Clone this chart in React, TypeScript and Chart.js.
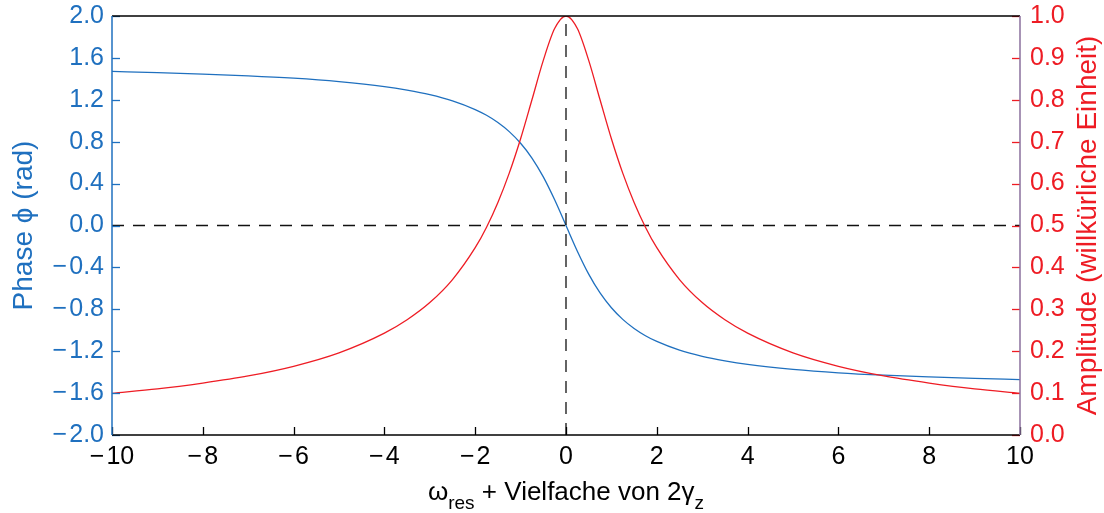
import React, { useEffect, useRef } from 'react';
import { Chart, registerables } from 'chart.js';
Chart.register(...registerables);

const xValues = [-10, -9, -8, -7, -6, -5, -4, -3.5, -3, -2.5, -2, -1.75, -1.5, -1.25, -1, -0.75, -0.5, -0.25, 0, 0.25, 0.5, 0.75, 1, 1.25, 1.5, 1.75, 2, 2.5, 3, 3.5, 4, 5, 6, 7, 8, 9, 10];
const phaseValues = [1.471, 1.46, 1.446, 1.429, 1.406, 1.373, 1.326, 1.292, 1.249, 1.19, 1.107, 1.052, 0.983, 0.896, 0.785, 0.644, 0.464, 0.245, 0, -0.245, -0.464, -0.644, -0.785, -0.896, -0.983, -1.052, -1.107, -1.19, -1.249, -1.292, -1.326, -1.373, -1.406, -1.429, -1.446, -1.46, -1.471];
const amplitudeValues = [0.0995, 0.11, 0.124, 0.141, 0.164, 0.196, 0.243, 0.275, 0.316, 0.371, 0.447, 0.496, 0.555, 0.625, 0.707, 0.8, 0.894, 0.97, 1.0, 0.97, 0.894, 0.8, 0.707, 0.625, 0.555, 0.496, 0.447, 0.371, 0.316, 0.275, 0.243, 0.196, 0.164, 0.141, 0.124, 0.11, 0.0995];

const xRange = [-10, 10];
const phaseRange = [-2, 2];
const ampRange = [0, 1];
const zeroPhaseLineX = [-10, 10];
const zeroPhaseLineY = [0, 0];
const resonanceLineX = [0, 0];
const resonanceLineY = [-2, 2];

const leftTitle = 'Phase \u03d5 (rad)';
const rightTitle = 'Amplitude (willkürliche Einheit)';
const xTitleParts = [
  { text: '\u03c9', sub: false },
  { text: 'res', sub: true },
  { text: ' + Vielfache von 2\u03b3', sub: false },
  { text: 'z', sub: true },
];

const BLUE = '#1f70bf';
const RED = '#ee1c24';
const FONT = "'Liberation Sans', Arial, Helvetica, sans-serif";
const TICK_SIZE = 25;
const TITLE_SIZE = 28;

const MINUS = '\u2212\u200a';
const fmt = (v: number) => {
  const s = v.toFixed(1);
  return s.startsWith('-') ? MINUS + s.slice(1) : s;
};
const fmtInt = (v: number) => {
  const r = Math.round(v);
  return r < 0 ? MINUS + Math.abs(r) : String(r);
};

const framePlugin = {
  id: 'frame',
  afterDatasetsDraw(chart: any) {
    const { ctx, chartArea, scales } = chart;
    const { left, right, top, bottom } = chartArea;
    const tl = 8;
    ctx.save();
    ctx.lineWidth = 1.3;
    ctx.setLineDash([]);
    ctx.strokeStyle = '#000';
    scales.x.ticks.forEach((t: any) => {
      const px = Math.round(scales.x.getPixelForValue(t.value)) + 0.5;
      ctx.beginPath(); ctx.moveTo(px, bottom); ctx.lineTo(px, bottom - tl); ctx.stroke();
    });
    ctx.strokeStyle = BLUE;
    scales.y.ticks.forEach((t: any) => {
      const py = Math.round(scales.y.getPixelForValue(t.value)) + 0.5;
      ctx.beginPath(); ctx.moveTo(left, py); ctx.lineTo(left + tl, py); ctx.stroke();
    });
    ctx.strokeStyle = RED;
    scales.y1.ticks.forEach((t: any) => {
      const py = Math.round(scales.y1.getPixelForValue(t.value)) + 0.5;
      ctx.beginPath(); ctx.moveTo(right, py); ctx.lineTo(right - tl, py); ctx.stroke();
    });
    ctx.lineWidth = 1.5;
    ctx.strokeStyle = '#000';
    ctx.beginPath(); ctx.moveTo(left, top); ctx.lineTo(right, top); ctx.stroke();
    ctx.beginPath(); ctx.moveTo(left, bottom); ctx.lineTo(right, bottom); ctx.stroke();
    ctx.strokeStyle = BLUE;
    ctx.beginPath(); ctx.moveTo(left, top); ctx.lineTo(left, bottom); ctx.stroke();
    ctx.strokeStyle = '#8a6f9c';
    ctx.beginPath(); ctx.moveTo(right, top); ctx.lineTo(right, bottom); ctx.stroke();
    ctx.restore();
  },
  afterDraw(chart: any) {
    const { ctx, chartArea } = chart;
    const { left, right, top, bottom } = chartArea;
    const cy = (top + bottom) / 2;
    ctx.save();
    ctx.textAlign = 'center';
    ctx.textBaseline = 'alphabetic';
    ctx.font = `${TITLE_SIZE}px ${FONT}`;
    ctx.fillStyle = BLUE;
    ctx.save(); ctx.translate(32, cy); ctx.rotate(-Math.PI / 2); ctx.fillText(leftTitle, 0, 0); ctx.restore();
    ctx.fillStyle = RED;
    ctx.save(); ctx.translate(1096, cy); ctx.rotate(-Math.PI / 2); ctx.fillText(rightTitle, 0, 0); ctx.restore();
    // x title with subscripts
    ctx.fillStyle = '#000';
    ctx.textAlign = 'left';
    const mainFont = `26px ${FONT}`;
    const subFont = `19px ${FONT}`;
    let total = 0;
    const widths = xTitleParts.map((p) => {
      ctx.font = p.sub ? subFont : mainFont;
      const w = ctx.measureText(p.text).width;
      total += w;
      return w;
    });
    let x = (left + right) / 2 - total / 2;
    const base = 500;
    xTitleParts.forEach((p, i) => {
      ctx.font = p.sub ? subFont : mainFont;
      ctx.fillText(p.text, x, p.sub ? base + 9 : base);
      x += widths[i];
    });
    ctx.restore();
  },
};

export default function App() {
  const ref = useRef<HTMLCanvasElement | null>(null);
  useEffect(() => {
    if (!ref.current) return;
    const toPts = (xs: number[], ys: number[]) => xs.map((x, i) => ({ x, y: ys[i] }));
    const noPad = (s: any) => { s.paddingTop = 0; s.paddingBottom = 0; s.paddingLeft = 0; s.paddingRight = 0; };
    const chart = new Chart(ref.current, {
      type: 'scatter',
      data: {
        datasets: [
          {
            label: 'Phase',
            data: toPts(xValues, phaseValues),
            yAxisID: 'y',
            showLine: true,
            borderColor: BLUE,
            borderWidth: 1.3,
            pointRadius: 0,
            cubicInterpolationMode: 'monotone',
            order: 2,
          },
          {
            label: 'Amplitude',
            data: toPts(xValues, amplitudeValues),
            yAxisID: 'y1',
            showLine: true,
            borderColor: RED,
            borderWidth: 1.3,
            pointRadius: 0,
            cubicInterpolationMode: 'monotone',
            order: 1,
          },
          {
            label: 'zero',
            data: toPts(zeroPhaseLineX, zeroPhaseLineY),
            yAxisID: 'y',
            showLine: true,
            borderColor: '#111',
            borderWidth: 1.3,
            borderDash: [12, 9],
            pointRadius: 0,
            order: 3,
          },
          {
            label: 'res',
            data: toPts(resonanceLineX, resonanceLineY),
            yAxisID: 'y',
            showLine: true,
            borderColor: '#111',
            borderWidth: 1.3,
            borderDash: [12, 9],
            pointRadius: 0,
            order: 0,
          },
        ],
      } as any,
      options: {
        animation: false,
        responsive: false,
        layout: { padding: { top: 16, left: 0, right: 0, bottom: 0 } },
        plugins: { legend: { display: false }, tooltip: { enabled: false }, title: { display: false } },
        scales: {
          x: {
            type: 'linear',
            min: xRange[0],
            max: xRange[1],
            grid: { display: false, drawTicks: false },
            border: { display: false },
            ticks: { stepSize: 2, color: '#000', font: { size: TICK_SIZE, family: FONT }, padding: 7, callback: (v: any) => fmtInt(Number(v)), maxRotation: 0, autoSkip: false },
            afterFit: (s: any) => { s.height = 78; noPad(s); },
          },
          y: {
            type: 'linear',
            position: 'left',
            min: phaseRange[0],
            max: phaseRange[1],
            grid: { display: false, drawTicks: false },
            border: { display: false },
            ticks: { stepSize: 0.4, color: BLUE, font: { size: TICK_SIZE, family: FONT }, padding: 8, callback: (v: any) => fmt(Number(v)), autoSkip: false },
            afterFit: (s: any) => { s.width = 112; noPad(s); },
          },
          y1: {
            type: 'linear',
            position: 'right',
            min: ampRange[0],
            max: ampRange[1],
            grid: { display: false, drawTicks: false },
            border: { display: false },
            ticks: { stepSize: 0.1, color: RED, font: { size: TICK_SIZE, family: FONT }, padding: 10, callback: (v: any) => fmt(Number(v)), autoSkip: false },
            afterFit: (s: any) => { s.width = 84; noPad(s); },
          },
        },
      } as any,
      plugins: [framePlugin],
    });
    return () => chart.destroy();
  }, []);
  return (
    <div style={{ position: 'absolute', left: 0, top: 0, width: 1104, height: 513, background: '#fff' }}>
      <canvas ref={ref} width={1104} height={513} style={{ display: 'block' }} />
    </div>
  );
}
